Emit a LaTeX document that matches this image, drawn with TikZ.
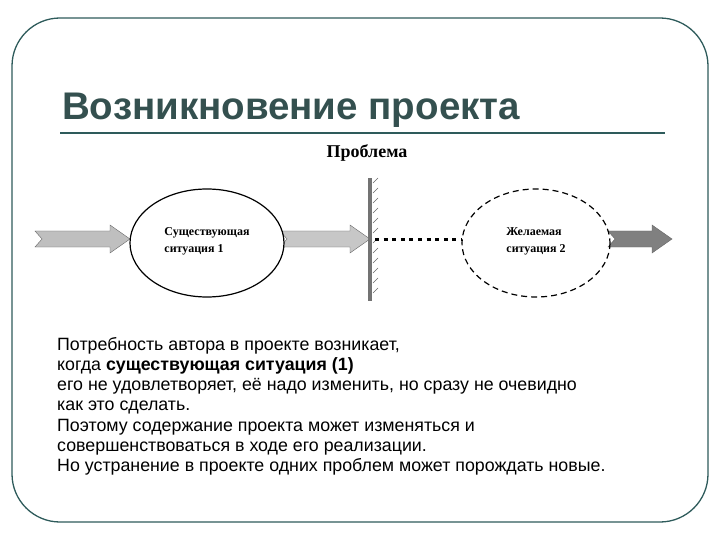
\documentclass[tikz,border=0pt]{standalone}
\usepackage{fontspec}
\setmainfont{Liberation Serif}
\setsansfont{Liberation Sans}
\definecolor{teal1}{HTML}{2E5B5B}
\definecolor{titlec}{HTML}{34504F}
\begin{document}
\begin{tikzpicture}[x=1pt,y=-1pt,
 arr/.style={draw=black!60,line width=0.4pt},
 lbl/.style={font=\bfseries\fontsize{12pt}{17pt}\selectfont,align=left}]
\useasboundingbox (0,0) rectangle (720,540);
\draw[line width=1.3pt,rounded corners=48pt,teal1] (12,18) rectangle (708,522);
\node[anchor=base west,font=\sffamily\bfseries\fontsize{38.5pt}{40pt}\selectfont,text=titlec,inner sep=0] (title) at (62,120) {Возникновение проекта};
\draw[teal1,line width=2pt] (60,133) -- (665,133);
\node[font=\bfseries\fontsize{18pt}{20pt}\selectfont] (prob) at (367,153) {Проблема};
% arrows (notched)
\draw[arr,fill=black!25] (35,231) -- (110,231) -- (110,225) -- (130,239) -- (110,253) -- (110,247) -- (35,247) -- (42,239) -- cycle;
\draw[arr,fill=black!22] (280,231) -- (350,231) -- (350,225) -- (370,239) -- (350,253) -- (350,247) -- (280,247) -- (287,239) -- cycle;
\draw[arr,fill=black!50] (608,231) -- (652,231) -- (652,225) -- (672,239) -- (652,253) -- (652,247) -- (608,247) -- (615,239) -- cycle;
% ellipses
\draw[line width=1.2pt,fill=white] (207,243) ellipse (77 and 54);
\node[lbl] (s1) at (207,241) {Существующая\\ситуация 1};
\draw[line width=1.2pt,dash pattern=on 6pt off 4pt] (536,243) ellipse (74 and 54);
\node[lbl] (s2) at (536,241) {Желаемая\\ситуация 2};
% wall
\fill[black!55] (368,178) rectangle (372,301);
\foreach \y in {183,193,...,298} \draw[black!60,line width=0.4pt] (373,\y) -- (378,\y-5);
\draw[line width=3pt,dash pattern=on 4pt off 4.6pt] (375,239) -- (462,239);
% body
\node[anchor=north west,align=left,inner sep=0,font=\sffamily\fontsize{17.8pt}{20.2pt}\selectfont] (body) at (57,337) {Потребность автора в проекте возникает,\\когда \textbf{существующая ситуация (1)}\\его не удовлетворяет, её надо изменить, но сразу не очевидно\\как это сделать.\\Поэтому содержание проекта может изменяться и\\совершенствоваться в ходе его реализации.\\Но устранение в проекте одних проблем может порождать новые.};
\end{tikzpicture}
\end{document}
